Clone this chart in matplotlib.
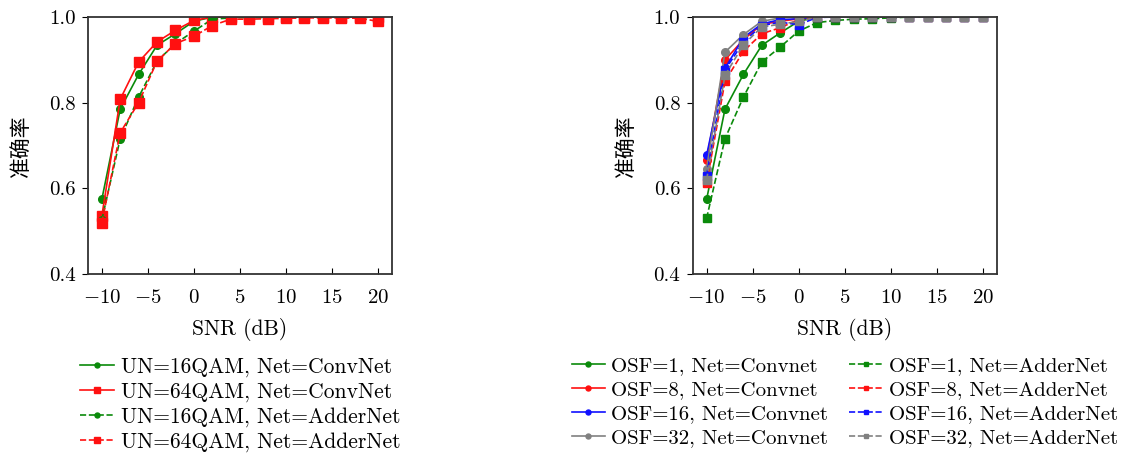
import numpy as np
import matplotlib
matplotlib.use("Agg")
import matplotlib.pyplot as plt
from matplotlib.legend_handler import HandlerLine2D

plt.rcParams['font.family'] = ['cmr10', 'Noto Sans CJK SC', 'DejaVu Sans']
plt.rcParams['mathtext.fontset'] = 'cm'
plt.rcParams['axes.formatter.use_mathtext'] = True
plt.rcParams['axes.unicode_minus'] = True

snr = [-10, -8, -6, -4, -2, 0, 2, 4, 6, 8, 10, 12, 14, 16, 18, 20]

# left panel
un16_conv = [0.574, 0.785, 0.866, 0.934, 0.961, 0.990, 1.0, 1.0, 1.0, 1.0, 1.0, 1.0, 1.0, 1.0, 1.0, 1.0]
un64_conv = [0.535, 0.808, 0.895, 0.942, 0.969, 0.992, 1.0, 1.0, 1.0, 1.0, 1.0, 1.0, 1.0, 1.0, 1.0, 1.0]
un16_adder = [0.526, 0.716, 0.813, 0.897, 0.938, 0.967, 0.995, 0.998, 0.999, 0.999, 1.0, 1.0, 1.0, 1.0, 0.999, 1.0]
un64_adder = [0.520, 0.730, 0.800, 0.897, 0.938, 0.955, 0.980, 0.995, 0.995, 0.996, 0.997, 0.998, 0.998, 0.998, 0.997, 0.990]

# right panel
osf1_conv = [0.574, 0.785, 0.866, 0.934, 0.963, 0.990, 1.0, 1.0, 1.0, 1.0, 1.0, 1.0, 1.0, 1.0, 1.0, 1.0]
osf8_conv = [0.667, 0.900, 0.947, 0.983, 0.990, 0.996, 1.0, 1.0, 1.0, 1.0, 1.0, 1.0, 1.0, 1.0, 1.0, 1.0]
osf16_conv = [0.677, 0.880, 0.952, 0.984, 0.994, 0.996, 1.0, 1.0, 1.0, 1.0, 1.0, 1.0, 1.0, 1.0, 1.0, 1.0]
osf32_conv = [0.646, 0.918, 0.959, 0.990, 0.998, 1.0, 1.0, 1.0, 1.0, 1.0, 1.0, 1.0, 1.0, 1.0, 1.0, 1.0]
osf1_adder = [0.530, 0.716, 0.813, 0.895, 0.930, 0.967, 0.987, 0.992, 0.995, 0.996, 0.998, 1.0, 1.0, 1.0, 1.0, 1.0]
osf8_adder = [0.612, 0.850, 0.920, 0.961, 0.975, 0.994, 1.0, 1.0, 1.0, 1.0, 1.0, 1.0, 1.0, 1.0, 1.0, 1.0]
osf16_adder = [0.629, 0.876, 0.942, 0.980, 0.988, 0.982, 0.999, 1.0, 1.0, 1.0, 1.0, 1.0, 1.0, 1.0, 1.0, 1.0]
osf32_adder = [0.620, 0.864, 0.935, 0.977, 0.983, 0.990, 1.0, 1.0, 1.0, 1.0, 1.0, 1.0, 1.0, 1.0, 1.0, 1.0]

GREEN = '#0a8a0a'
RED = '#ff1010'
BLUE = '#1010ff'
GRAY = '#808080'


class EndMarker(HandlerLine2D):
    # line with the marker at its right end
    def get_xdata(self, legend, xdescent, ydescent, width, height, fontsize):
        xdata = np.array([-xdescent, -xdescent + width])
        return xdata, xdata[-1:]


def style_axes(ax):
    ax.set_xlim(-11.5, 21.5)
    ax.set_ylim(0.4, 1.0)
    ax.set_xticks([-10, -5, 0, 5, 10, 15, 20])
    ax.set_yticks([0.4, 0.6, 0.8, 1.0])
    ax.yaxis.set_major_formatter(matplotlib.ticker.FormatStrFormatter('%.1f'))
    ax.tick_params(axis='x', direction='in', length=4, labelsize=15, pad=11)
    ax.tick_params(axis='y', direction='out', length=4, labelsize=15, pad=5)
    for s in ax.spines.values():
        s.set_color('#333333')
        s.set_linewidth(1.3)
    ax.set_xlabel('SNR (dB)', fontsize=15.5, labelpad=8)
    ax.set_ylabel('准确率', fontsize=15, family=['Noto Sans CJK SC'], labelpad=12)


fig = plt.figure(figsize=(11.21, 4.54), dpi=100)
ax1 = fig.add_axes([0.0785, 0.3965, 0.271, 0.566])
ax2 = fig.add_axes([0.618, 0.3965, 0.271, 0.566])

ax1.plot(snr, un16_conv, '-o', color=GREEN, ms=5.5, lw=1.2, label='UN=16QAM, Net=ConvNet')
ax1.plot(snr, un64_conv, '-s', color=RED, ms=6.5, lw=1.2, label='UN=64QAM, Net=ConvNet')
ax1.plot(snr, un16_adder, '--o', color=GREEN, ms=5.5, lw=1.2, label='UN=16QAM, Net=AdderNet')
ax1.plot(snr, un64_adder, '--s', color=RED, ms=6.5, lw=1.2, label='UN=64QAM, Net=AdderNet')
style_axes(ax1)
ax1.legend(loc='upper center', bbox_to_anchor=(0.5, -0.29), frameon=False, fontsize=15.5,
           handlelength=1.6, handletextpad=0.3, labelspacing=0.24, borderaxespad=0,
           handler_map={matplotlib.lines.Line2D: EndMarker()}, markerscale=0.65)

ax2.plot(snr, osf1_conv, '-o', color=GREEN, ms=5.5, lw=1.2, label='OSF=1, Net=Convnet')
ax2.plot(snr, osf8_conv, '-o', color=RED, ms=5.5, lw=1.2, label='OSF=8, Net=Convnet')
ax2.plot(snr, osf16_conv, '-o', color=BLUE, ms=5.5, lw=1.2, label='OSF=16, Net=Convnet')
ax2.plot(snr, osf32_conv, '-o', color=GRAY, ms=5.5, lw=1.2, label='OSF=32, Net=Convnet')
ax2.plot(snr, osf1_adder, '--s', color=GREEN, ms=5.5, lw=1.2, label='OSF=1, Net=AdderNet')
ax2.plot(snr, osf8_adder, '--s', color=RED, ms=5.5, lw=1.2, label='OSF=8, Net=AdderNet')
ax2.plot(snr, osf16_adder, '--s', color=BLUE, ms=5.5, lw=1.2, label='OSF=16, Net=AdderNet')
ax2.plot(snr, osf32_adder, '--s', color=GRAY, ms=5.5, lw=1.2, label='OSF=32, Net=AdderNet')
style_axes(ax2)
ax2.legend(loc='upper center', bbox_to_anchor=(0.5, -0.29), frameon=False, fontsize=15, ncol=2,
           handlelength=1.6, handletextpad=0.3, labelspacing=0.26, columnspacing=1.0,
           borderaxespad=0, handler_map={matplotlib.lines.Line2D: EndMarker()}, markerscale=0.65)

fig.savefig('out.png', dpi=100)
